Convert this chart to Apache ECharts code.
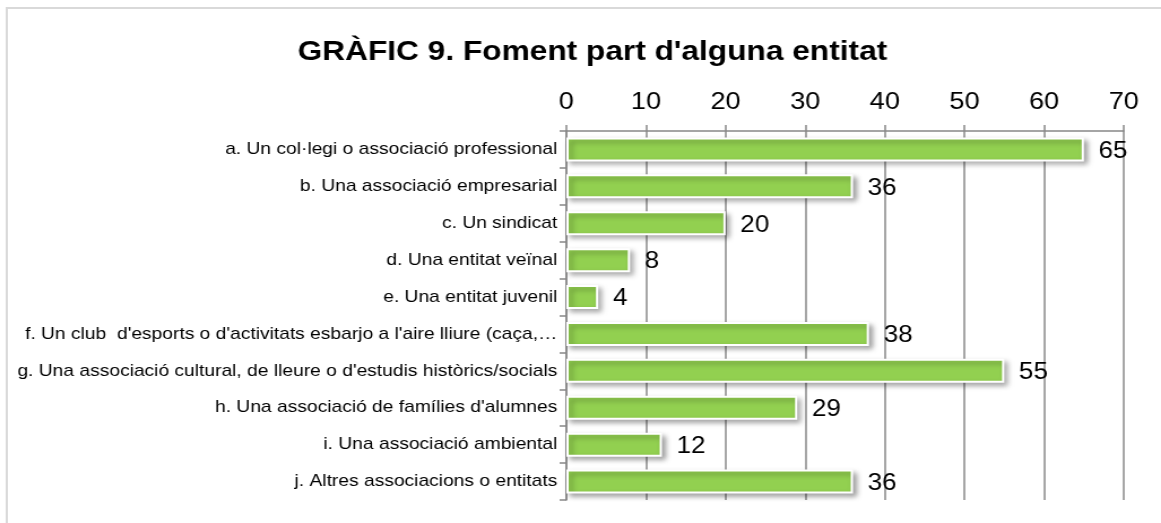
<!DOCTYPE html>
<html>
<head>
<meta charset="utf-8">
<script src="https://cdn.jsdelivr.net/npm/echarts@6/dist/echarts.min.js"></script>
<style>
  html, body { margin: 0; padding: 0; background: #fff; overflow: hidden; }
  /* the original picture is stretched sideways, so draw narrower and stretch */
  #main { width: 1027px; height: 523px; transform: scaleX(1.1305); transform-origin: 0 0; }
</style>
</head>
<body>
<div id="main"></div>
<script>
// categories top to bottom
var categories = [
  'a. Un col·legi o associació professional',
  'b. Una associació empresarial',
  'c. Un sindicat',
  'd. Una entitat veïnal',
  'e. Una entitat juvenil',
  "f. Un club  d'esports o d'activitats esbarjo a l'aire lliure (caça,…",
  "g. Una associació cultural, de lleure o d'estudis històrics/socials",
  "h. Una associació de famílies d'alumnes",
  'i. Una associació ambiental',
  'j. Altres associacions o entitats'
];
var values = [65, 36, 20, 8, 4, 38, 55, 29, 12, 36];
var axisMin = 0, axisMax = 70, axisStep = 10;

var chart = echarts.init(document.getElementById('main'));
var font = 'Liberation Sans';

var option = {
  backgroundColor: '#fff',
  animation: false,
  title: {
    text: 'GRÀFIC 9. Foment part d\'alguna entitat',
    left: 519,
    top: 33,
    textAlign: 'center',
    textStyle: {
      fontFamily: font,
      fontSize: 28,
      fontWeight: 'bold',
      color: '#000'
    }
  },
  graphic: [{
    type: 'rect',
    shape: { x: 6, y: 8, width: 1050, height: 530 },
    style: { fill: 'none', stroke: '#d9d9d9', lineWidth: 2 },
    silent: true
  }],
  grid: {
    left: 501,
    right: 33,
    top: 131,
    bottom: 23,
    containLabel: false
  },
  xAxis: {
    type: 'value',
    position: 'top',
    min: axisMin,
    max: axisMax,
    interval: axisStep,
    axisLine: { show: true, lineStyle: { color: '#888', width: 1.5 } },
    axisTick: { show: true, length: 6, lineStyle: { color: '#888', width: 1.5 } },
    splitLine: { show: true, lineStyle: { color: '#888', width: 1.5 } },
    axisLabel: {
      fontFamily: font,
      fontSize: 24,
      color: '#000',
      margin: 17
    }
  },
  yAxis: {
    type: 'category',
    inverse: true,
    data: categories,
    axisLine: { show: true, lineStyle: { color: '#888', width: 1.5 } },
    axisTick: { show: true, length: 6, lineStyle: { color: '#888', width: 1.5 } },
    axisLabel: {
      fontFamily: font,
      fontSize: 17,
      color: '#000',
      margin: 8
    }
  },
  series: [{
    type: 'bar',
    data: values,
    barWidth: 24,
    itemStyle: {
      color: '#92d050',
      borderColor: '#fff',
      borderWidth: 2,
      shadowColor: 'rgba(0,0,0,0.35)',
      shadowBlur: 5,
      shadowOffsetX: 3,
      shadowOffsetY: 3
    },
    label: {
      show: true,
      position: 'right',
      distance: 13,
      fontFamily: font,
      fontSize: 23,
      color: '#000',
      offset: [0, 2]
    }
  }]
};

chart.setOption(option);
</script>
</body>
</html>
